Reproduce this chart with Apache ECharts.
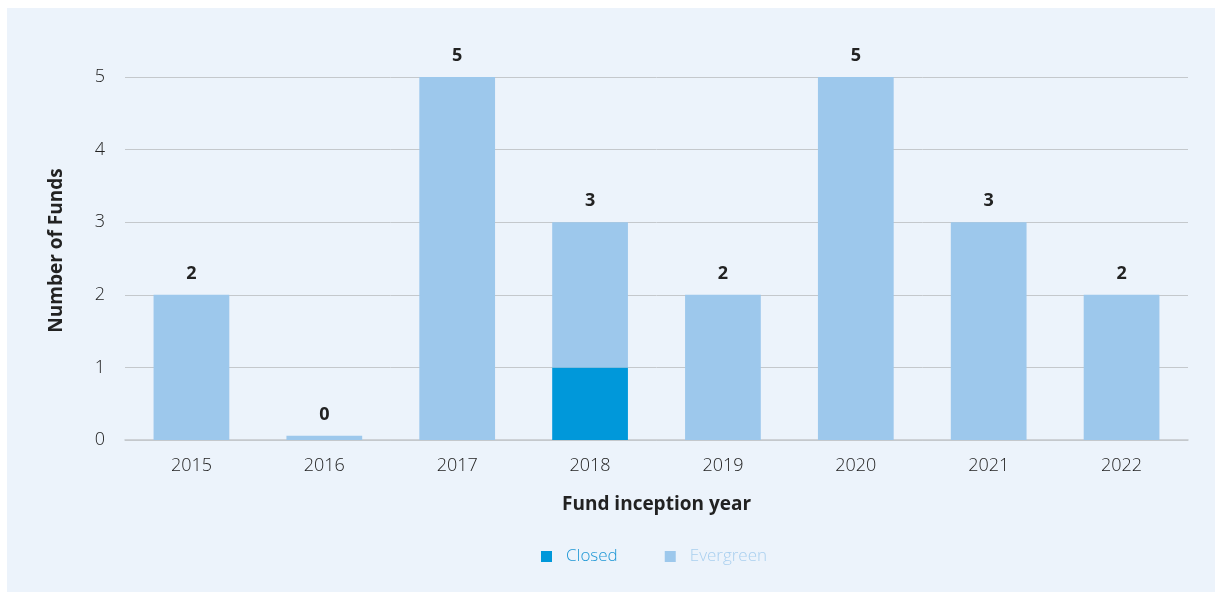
<!DOCTYPE html>
<html>
<head>
<meta charset="utf-8">
<script src="https://cdn.jsdelivr.net/npm/echarts@6/dist/echarts.min.js"></script>
<style>
  html, body { margin: 0; padding: 0; background: #fff; }
  #panel { position: absolute; left: 7px; top: 8px; width: 1208px; height: 584px; background: #ECF3FB; }
  #chart { position: absolute; left: 0; top: 0; width: 1222px; height: 594px; }
</style>
</head>
<body>
<div id="panel"></div>
<div id="chart"></div>
<script>
// 数据
const years = ['2015', '2016', '2017', '2018', '2019', '2020', '2021', '2022']
const closed = [0, 0, 0, 1, 0, 0, 0, 0]
// 2016 shows a thin sliver in the picture
const evergreen = [2, 0.06, 5, 2, 2, 5, 3, 2]
const totals = [2, 0, 5, 3, 2, 5, 3, 2]
const yTicks = [0, 1, 2, 3, 4, 5]

const font = '"Open Sans", "Noto Sans", sans-serif'
const chart = echarts.init(document.getElementById('chart'))

chart.setOption({
  animation: false,
  textStyle: { fontFamily: font },
  grid: { left: 125, right: 34, top: 77, bottom: 154 },
  legend: {
    top: 543,
    left: 536,
    itemWidth: 11,
    itemHeight: 11,
    itemGap: 47,
    icon: 'rect',
    data: [
      { name: 'Closed', textStyle: { color: '#1F97D5' } },
      { name: 'Evergreen', textStyle: { color: '#A9CFEF' } },
    ],
    textStyle: { fontSize: 17, fontFamily: font, fontWeight: 300, padding: [0, 0, 0, 9] },
  },
  xAxis: {
    type: 'category',
    data: years,
    name: 'Fund inception year',
    nameLocation: 'middle',
    nameGap: 55,
    nameTextStyle: { fontSize: 19, fontWeight: 'bold', color: '#222', fontFamily: font },
    axisLine: { lineStyle: { color: '#C4C8CC', width: 1.5 } },
    axisTick: { show: false },
    axisLabel: { fontSize: 18, fontWeight: 300, color: '#222', margin: 17 },
  },
  yAxis: {
    type: 'value',
    min: yTicks[0],
    max: yTicks[yTicks.length - 1],
    interval: 1,
    name: 'Number of Funds',
    nameLocation: 'middle',
    nameGap: 59,
    nameRotate: 90,
    nameTextStyle: { fontSize: 19, fontWeight: 'bold', color: '#222', fontFamily: font, padding: [0, 0, 0, 16] },
    axisLine: { show: false },
    axisTick: { show: false },
    axisLabel: { fontSize: 18, fontWeight: 300, color: '#222', margin: 20 },
    splitLine: { lineStyle: { color: '#C4C8CC', width: 1 } },
  },
  series: [
    {
      name: 'Closed',
      type: 'bar',
      stack: 'funds',
      barWidth: '57%',
      itemStyle: { color: '#0098DA' },
      data: closed,
    },
    {
      name: 'Evergreen',
      type: 'bar',
      stack: 'funds',
      barWidth: '57%',
      itemStyle: { color: '#9DC8EC' },
      label: {
        show: true,
        position: 'top',
        distance: 12,
        fontSize: 18,
        fontWeight: 'bold',
        color: '#222',
        formatter: (p) => String(totals[p.dataIndex]),
      },
      data: evergreen,
    },
  ],
})
</script>
</body>
</html>
